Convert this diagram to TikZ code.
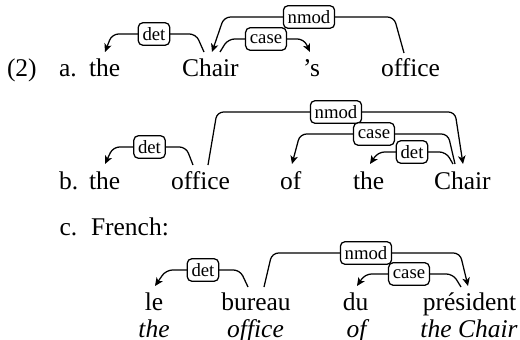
\documentclass[tikz,border=0pt]{standalone}
\usepackage{fontspec}
\setmainfont{Liberation Serif}
\usetikzlibrary{arrows.meta}
\begin{document}
\begin{tikzpicture}[x=0.4pt,y=-0.4pt,
  word/.style={anchor=base west,inner sep=0pt,font=\fontsize{10.2}{12}\selectfont},
  cword/.style={anchor=base,inner sep=0pt,font=\fontsize{10.2}{12}\selectfont},
  gloss/.style={anchor=base,inner sep=0pt,font=\fontsize{10.2}{12}\selectfont\itshape},
  dep/.style={line width=0.5pt,rounded corners=2.6pt,-{Stealth[length=3.3pt,width=3pt,inset=0.9pt]}},
  lab/.style={draw,fill=white,rounded corners=1.8pt,line width=0.5pt,inner xsep=1.7pt,inner ysep=0pt,minimum height=9pt,font=\fontsize{7.5}{8}\selectfont,midway}
]
\useasboundingbox (0,0) rectangle (520,340);
% ---- row a
\node[word] (num) at (6.5,76.5) {(2)};
\node[word] (la) at (58.5,76.5) {a.};
\node[word] (athe) at (88.5,76.5) {the};
\node[word] (achair) at (181.5,76.5) {Chair};
\node[word] (aposs) at (302.5,76.5) {’s};
\node[word] (aoffice) at (380.5,76.5) {office};
\coordinate (a1) at (204,52);
\coordinate (a2) at (105,52);
\coordinate (a3) at (404,53);
\coordinate (a4) at (212,52);
\coordinate (a5) at (220,52);
\coordinate (a6) at (310,52);
\draw[dep] (a1) -- (196,34) -- node[lab]{det} (112,34) -- (a2);
\draw[dep] (a3) -- (394,17) -- node[lab]{nmod} (224,17) -- (a4);
\draw[dep] (a5) -- (228,39) -- node[lab]{case} (304,39) -- (a6);
% ---- row b
\node[word] (lb) at (58.5,189) {b.};
\node[word] (bthe) at (88.5,189) {the};
\node[word] (boffice) at (170.5,189) {office};
\node[word] (bof) at (279.5,189) {of};
\node[word] (bthe2) at (352.5,189) {the};
\node[word] (bchair) at (433.5,189) {Chair};
\coordinate (b1) at (193,165);
\coordinate (b2) at (105,164);
\coordinate (b3) at (208,165);
\coordinate (b4) at (463,164);
\coordinate (b5) at (455,164);
\coordinate (b6) at (292,164);
\coordinate (b7) at (453,164);
\coordinate (b8) at (370,164);
\draw[dep] (b1) -- (186,147) -- node[lab]{det} (113,147) -- (b2);
\draw[dep] (b3) -- (217,112) -- node[lab]{nmod} (455,112) -- (b4);
\draw[dep] (b5) -- (448,134) -- node[lab]{case} (300,134) -- (b6);
\draw[dep] (b7) -- (446,152) -- node[lab]{det} (378,152) -- (b8);
% ---- row c
\node[word] (lc) at (59,235) {c.};
\node[word] (french) at (90.5,235) {French:};
\node[cword] (cle) at (154,310) {le};
\node[cword] (cbureau) at (256,310) {bureau};
\node[cword] (cdu) at (355.5,310) {du};
\node[cword] (cpres) at (469.5,310) {président};
\node[gloss] (gthe) at (154,337) {the};
\node[gloss] (goffice) at (255.5,337) {office};
\node[gloss] (gof) at (356.5,337) {of};
\node[gloss] (gchair) at (469,337) {the Chair};
\coordinate (c1) at (248,287);
\coordinate (c2) at (155,286);
\coordinate (c3) at (264,287);
\coordinate (c4) at (468,286);
\coordinate (c5) at (461,287);
\coordinate (c6) at (357,286);
\draw[dep] (c1) -- (240,270) -- node[lab]{det} (166,270) -- (c2);
\draw[dep] (c3) -- (272,253) -- node[lab]{nmod} (460,253) -- (c4);
\draw[dep] (c5) -- (453,274) -- node[lab]{case} (365,274) -- (c6);
\end{tikzpicture}
\end{document}
